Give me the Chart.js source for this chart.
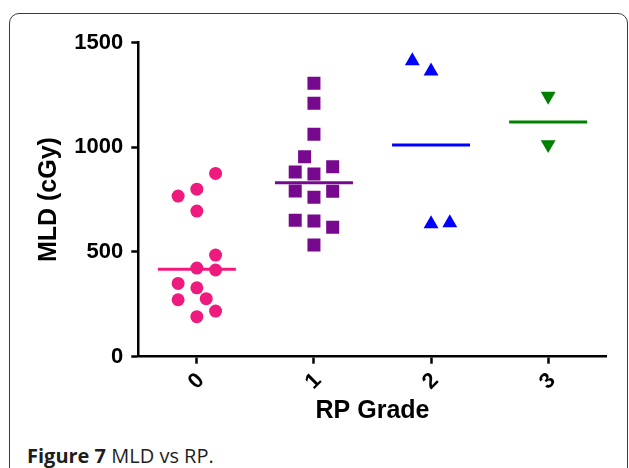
<!DOCTYPE html>
<html>
<head>
<meta charset="utf-8">
<script src="https://cdn.jsdelivr.net/npm/chart.js@4/dist/chart.umd.min.js"></script>
<style>
  body { margin: 0; background: #fff; }
  #wrap { position: relative; width: 629px; height: 468px; overflow: hidden; }
  #frame {
    position: absolute; left: 9px; top: 13px; width: 619px; height: 500px;
    border: 1.3px solid #3a3a3a; border-radius: 10px; box-sizing: border-box;
  }
  #caption {
    position: absolute; left: 27px; top: 442px;
    font-family: "Open Sans", sans-serif; font-size: 20px; color: #1e1e1e;
    white-space: nowrap;
  }
  #caption b { font-weight: 700; }
  canvas { position: absolute; left: 0; top: 0; }
</style>
</head>
<body>
<div id="wrap">
  <div id="frame"></div>
  <div id="caption"><b>Figure 7</b> MLD vs RP.</div>
  <canvas id="myChart" width="629" height="468"></canvas>
</div>
<script>
// RP-grad (kategorier på x-aksen)
const grades = ['0', '1', '2', '3'];
const yTicks = [0, 500, 1000, 1500];

// MLD-verdier (cGy) per grad, lest fra figuren
const grade0Values = [875, 800, 767, 695, 485, 423, 414, 350, 329, 272, 277, 218, 191];
const grade1Values = [1305, 1210, 1062, 955, 882, 872, 907, 791, 761, 790, 651, 648, 618, 533];
const grade2Values = [1412, 1363, 634, 639];
const grade3Values = [1244, 1013];

// Kolonneforskyvning for punktene (spredning rundt kategorien)
const grade0Offsets = [0.16, 0, -0.16, 0, 0.16, 0, 0.16, -0.16, 0, -0.16, 0.08, 0.16, 0];
const grade1Offsets = [0, 0, 0, -0.08, -0.16, 0, 0.16, -0.16, 0, 0.16, -0.16, 0, 0.16, 0];
const grade2Offsets = [-0.16, 0, 0, 0.16];
const grade3Offsets = [0, 0];

// Median per grad (horisontal strek)
const medians = [417, 831, 1011, 1120];

const colors = ['#ee1a7e', '#77098f', '#0000ff', '#008000'];
const halfWidth = 0.333;

function points(values, offsets, grade) {
    return values.map((v, i) => ({ x: grade + offsets[i], y: v }));
}

const groups = [
    { values: grade0Values, offsets: grade0Offsets, style: 'circle', radius: 6.5, rotation: 0 },
    { values: grade1Values, offsets: grade1Offsets, style: 'rect', radius: 9.2, rotation: 0 },
    { values: grade2Values, offsets: grade2Offsets, style: 'triangle', radius: 8.6, rotation: 0 },
    { values: grade3Values, offsets: grade3Offsets, style: 'triangle', radius: 8.6, rotation: 180 }
];

const datasets = [];
groups.forEach(function(g, i) {
    datasets.push({
        type: 'scatter',
        label: 'Grade ' + grades[i],
        data: points(g.values, g.offsets, i),
        pointStyle: g.style,
        pointRadius: g.radius,
        pointRotation: g.rotation,
        backgroundColor: colors[i],
        borderColor: colors[i],
        borderWidth: 0
    });
    datasets.push({
        type: 'line',
        label: 'Median ' + grades[i],
        data: [{ x: i - halfWidth, y: medians[i] }, { x: i + halfWidth, y: medians[i] }],
        borderColor: colors[i],
        borderWidth: 3,
        pointRadius: 0,
        fill: false
    });
});

const fontTicks = { family: '"Liberation Sans", Arial, sans-serif', size: 22, weight: 'bold' };
const fontTitle = { family: '"Liberation Sans", Arial, sans-serif', size: 25, weight: 'bold' };

const ctx = document.getElementById('myChart').getContext('2d');
const myChart = new Chart(ctx, {
    type: 'scatter',
    data: { datasets: datasets },
    options: {
        responsive: false,
        animation: false,
        layout: { padding: { top: 42.5, right: 22.3, left: 0, bottom: 0 } },
        plugins: { legend: { display: false }, tooltip: { enabled: false } },
        scales: {
            x: {
                type: 'linear',
                min: -0.5,
                max: 3.5,
                afterBuildTicks: function(scale) {
                    scale.ticks = grades.map((g, i) => ({ value: i }));
                },
                afterFit: function(scale) { scale.height = 111.3; },
                ticks: {
                    color: '#000',
                    font: fontTicks,
                    minRotation: 45,
                    maxRotation: 45,
                    padding: 4,
                    labelOffset: 4,
                    callback: function(value) { return grades[value]; }
                },
                grid: { drawOnChartArea: false, drawTicks: true, tickLength: 7, tickWidth: 2.5, tickColor: '#000' },
                border: { display: true, color: '#000', width: 2.5 },
                title: { display: true, text: 'RP Grade', color: '#000', font: fontTitle, padding: { top: 0, bottom: 42 } }
            },
            y: {
                min: 0,
                max: 1500,
                afterBuildTicks: function(scale) {
                    scale.ticks = yTicks.map(v => ({ value: v }));
                },
                afterFit: function(scale) { scale.width = 138.3; },
                ticks: {
                    color: '#000',
                    font: fontTicks,
                    padding: 8,
                    callback: function(value) { return String(value); }
                },
                grid: { drawOnChartArea: false, drawTicks: true, tickLength: 7, tickWidth: 2.5, tickColor: '#000' },
                border: { display: true, color: '#000', width: 2.5 },
                title: { display: true, text: 'MLD (cGy)', color: '#000', font: fontTitle, padding: { top: 34, bottom: 0 } }
            }
        }
    }
});
</script>
</body>
</html>
